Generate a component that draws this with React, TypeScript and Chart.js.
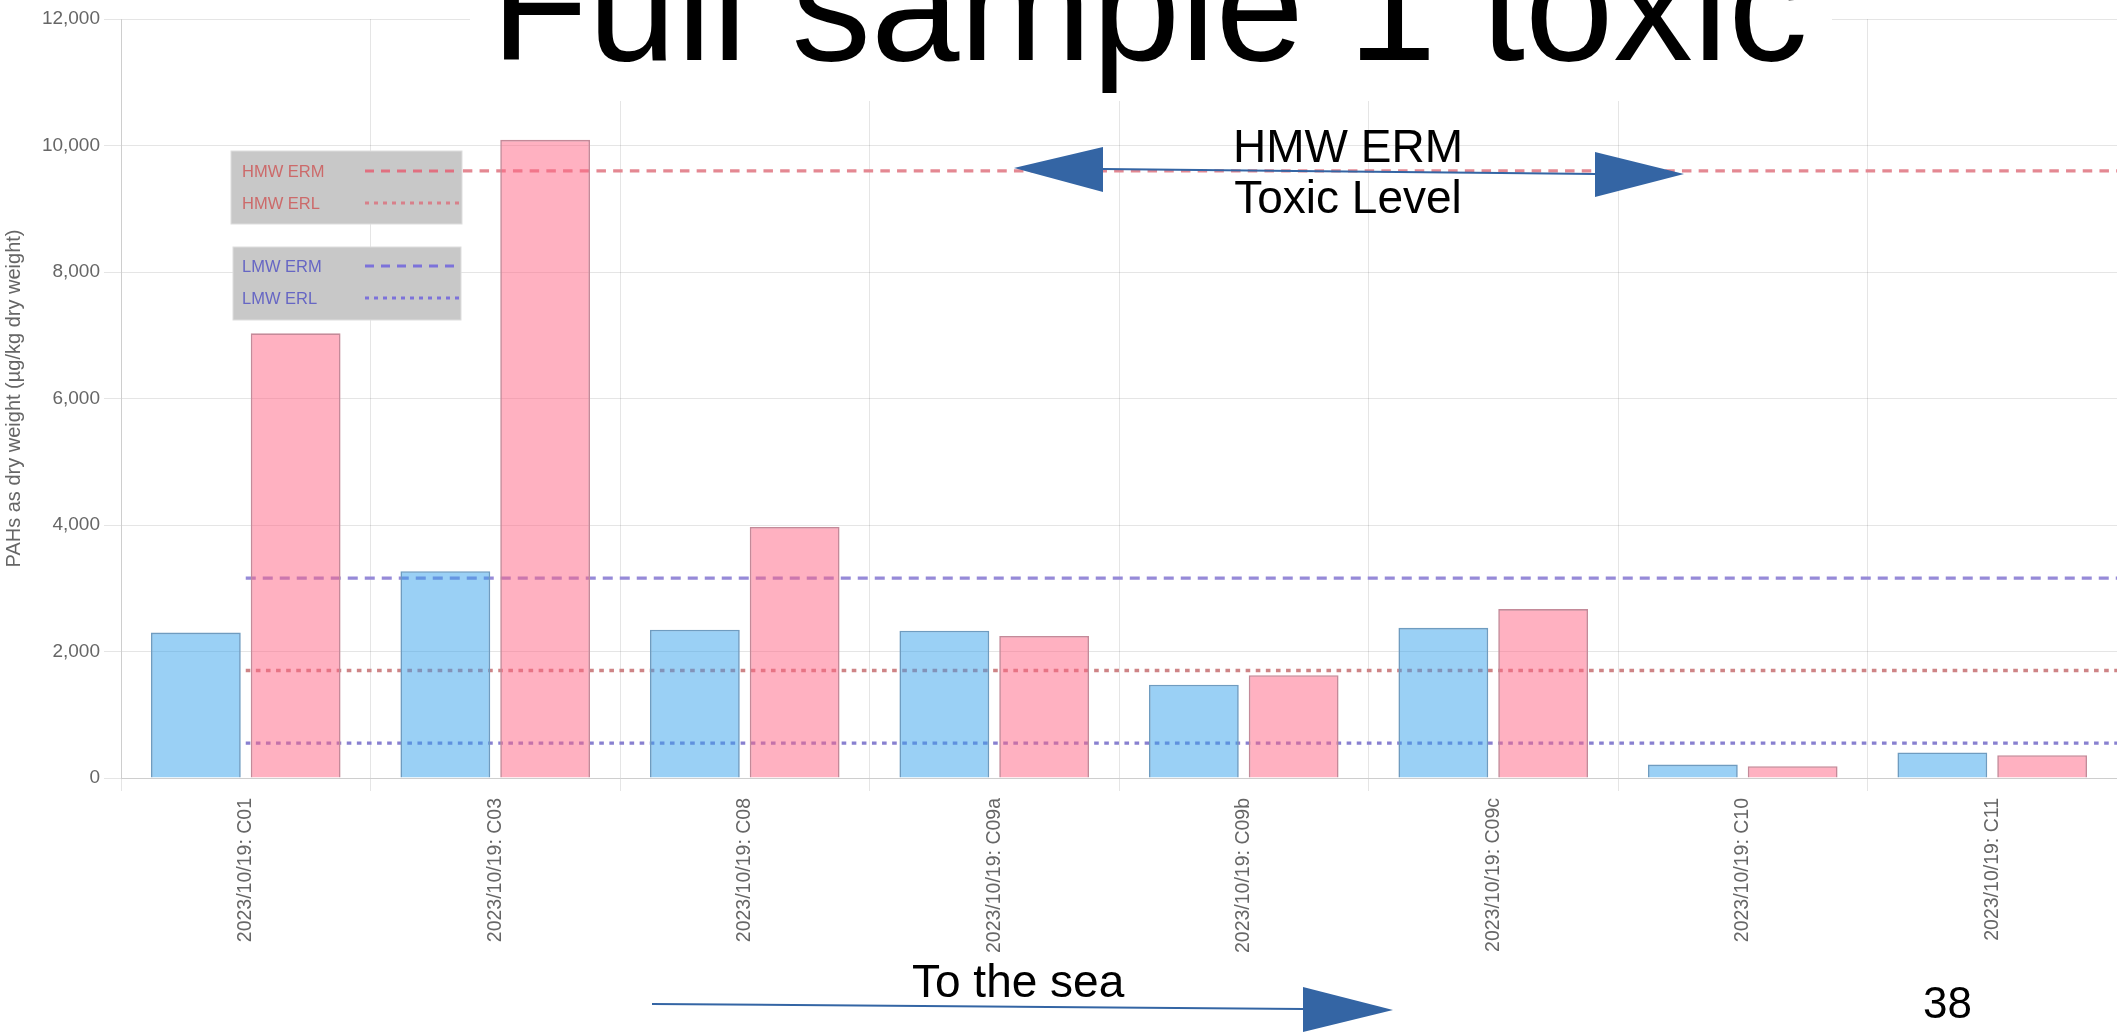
import React, { useEffect, useRef } from 'react';
import { Chart, registerables } from 'chart.js';

Chart.register(...registerables);

// ---- data ----
const categories = [
  '2023/10/19: C01',
  '2023/10/19: C03',
  '2023/10/19: C08',
  '2023/10/19: C09a',
  '2023/10/19: C09b',
  '2023/10/19: C09c',
  '2023/10/19: C10',
  '2023/10/19: C11',
];
const lmwValues = [2300, 3270, 2345, 2330, 1475, 2375, 213, 405];
const hmwValues = [7030, 10090, 3970, 2245, 1625, 2670, 186, 360];
const thresholdNames = ['HMW ERM', 'HMW ERL', 'LMW ERM', 'LMW ERL'];
const thresholdValues = [9600, 1700, 3160, 552];
const yTicks = [0, 2000, 4000, 6000, 8000, 10000, 12000];
const yAxisTitle = 'PAHs as dry weight (µg/kg dry weight)';
const slideTitle = 'Full sample 1 toxic';
const pageNumber = '38';

// ---- styles ----
const thresholdStyles = [
  { color: 'rgb(228,136,146)', dash: [9.5, 7.2], width: 3.2 },
  { color: 'rgb(206,132,134)', dash: [4.6, 5.5], width: 3.4 },
  { color: 'rgb(150,138,216)', dash: [10, 7], width: 3.2 },
  { color: 'rgb(136,128,208)', dash: [4.6, 5.5], width: 3.4 },
];
const legendTextColors = ['#cc6a6a', '#cc6a6a', '#6666c4', '#6666c4'];
const legendSampleColors = ['#e07080', '#d8808a', '#7c72da', '#7c72da'];
const ARROW = '#3465a4';
const FONT = "'Liberation Sans', Arial, Helvetica, sans-serif";

const thresholdPlugin = {
  id: 'thresholdLines',
  beforeDatasetsDraw(chart: any) {
    const { ctx, chartArea, scales } = chart;
    const x0 = scales.x.getPixelForValue(0);
    ctx.save();
    ctx.beginPath();
    ctx.rect(chartArea.left, chartArea.top, chartArea.right - chartArea.left, chartArea.bottom - chartArea.top);
    ctx.clip();
    thresholdValues.forEach((v, i) => {
      const s = thresholdStyles[i];
      const y = scales.y.getPixelForValue(v);
      ctx.beginPath();
      ctx.setLineDash(s.dash);
      ctx.strokeStyle = s.color;
      ctx.lineWidth = s.width;
      ctx.moveTo(x0, y);
      ctx.lineTo(chartArea.right, y);
      ctx.stroke();
    });
    ctx.restore();
  },
};

export default function App() {
  const canvasRef = useRef<HTMLCanvasElement | null>(null);

  useEffect(() => {
    const canvas = canvasRef.current;
    if (!canvas) return;
    Chart.defaults.font.family = FONT;
    const chart = new Chart(canvas, {
      type: 'bar',
      data: {
        labels: categories,
        datasets: [
          {
            label: 'LMW PAHs',
            data: lmwValues,
            backgroundColor: 'rgba(54,162,235,0.5)',
            borderColor: '#6f9cc0',
            borderWidth: 1.6,
          },
          {
            label: 'HMW PAHs',
            data: hmwValues,
            backgroundColor: 'rgba(255,99,132,0.5)',
            borderColor: '#c48a99',
            borderWidth: 1.6,
          },
        ],
      },
      options: {
        responsive: false,
        animation: false,
        layout: { padding: { top: 19, right: 0, bottom: 0, left: 0 } },
        plugins: {
          legend: { display: false },
          tooltip: { enabled: false },
        },
        scales: {
          x: {
            grid: { color: 'rgba(0,0,0,0.1)', tickLength: 13, offset: true },
            border: { color: 'rgba(0,0,0,0.1)' },
            ticks: {
              autoSkip: false,
              minRotation: 90,
              maxRotation: 90,
              padding: 7,
              color: '#666',
              font: { size: 19.5 },
            },
            afterFit: (s: any) => {
              s.height = 256;
            },
          },
          y: {
            min: 0,
            max: 12000,
            grid: { color: 'rgba(0,0,0,0.1)', tickLength: 17 },
            border: { color: 'rgba(0,0,0,0.1)' },
            ticks: { padding: 4, color: '#666', font: { size: 19 } },
            afterBuildTicks: (s: any) => {
              s.ticks = yTicks.map((v) => ({ value: v }));
            },
            title: {
              display: true,
              text: yAxisTitle,
              color: '#666',
              font: { size: 20, lineHeight: 1 },
              padding: { top: 4, bottom: 0 },
            },
            afterFit: (s: any) => {
              s.width = 121;
            },
          },
        },
      },
      plugins: [thresholdPlugin],
    } as any);
    return () => chart.destroy();
  }, []);

  const legendRows = [
    { y: 171, box: 0 },
    { y: 203, box: 0 },
    { y: 266, box: 1 },
    { y: 298, box: 1 },
  ];

  return (
    <div
      style={{
        position: 'absolute',
        left: 0,
        top: 0,
        width: 2117,
        height: 1034,
        overflow: 'hidden',
        background: '#fff',
      }}
    >
      <canvas
        ref={canvasRef}
        width={2117}
        height={1034}
        style={{ position: 'absolute', left: 0, top: 0, display: 'block' }}
      />
      <svg
        width={2117}
        height={1034}
        style={{ position: 'absolute', left: 0, top: 0, pointerEvents: 'none' }}
        fontFamily={FONT}
      >
        {/* title box */}
        <rect x={470} y={0} width={1362} height={101} fill="#fff" />
        <text x={491} y={60} fontSize={159} fill="#000">
          {slideTitle}
        </text>

        {/* legend boxes */}
        <rect x={231} y={151} width={231} height={73} fill="#c8c8c8" stroke="#dedede" strokeWidth={1} />
        <rect x={233} y={247} width={228} height={73} fill="#c8c8c8" stroke="#dedede" strokeWidth={1} />
        {thresholdNames.map((name, i) => (
          <g key={name}>
            <text x={242} y={legendRows[i].y + 6} fontSize={16.5} fill={legendTextColors[i]}>
              {name}
            </text>
            <line
              x1={365}
              x2={461}
              y1={legendRows[i].y}
              y2={legendRows[i].y}
              stroke={legendSampleColors[i]}
              strokeWidth={3}
              strokeDasharray={i % 2 === 0 ? '9 7' : '4 5'}
            />
          </g>
        ))}

        {/* HMW ERM toxic level annotation */}
        <line x1={1103} y1={169} x2={1596} y2={174} stroke={ARROW} strokeWidth={2} />
        <polygon points="1014,168 1103,147 1103,192" fill={ARROW} />
        <polygon points="1595,152 1595,197 1684,174" fill={ARROW} />
        <text x={1348} y={162} fontSize={46} textAnchor="middle" fill="#000">
          HMW ERM
        </text>
        <text x={1348} y={213} fontSize={46} textAnchor="middle" fill="#000">
          Toxic Level
        </text>

        {/* To the sea */}
        <line x1={652} y1={1004} x2={1304} y2={1009} stroke={ARROW} strokeWidth={2} />
        <polygon points="1303,987 1303,1032 1393,1010" fill={ARROW} />
        <text x={912} y={997} fontSize={46} fill="#000">
          To the sea
        </text>

        <text x={1923} y={1018} fontSize={44} fill="#000">
          {pageNumber}
        </text>
      </svg>
    </div>
  );
}
